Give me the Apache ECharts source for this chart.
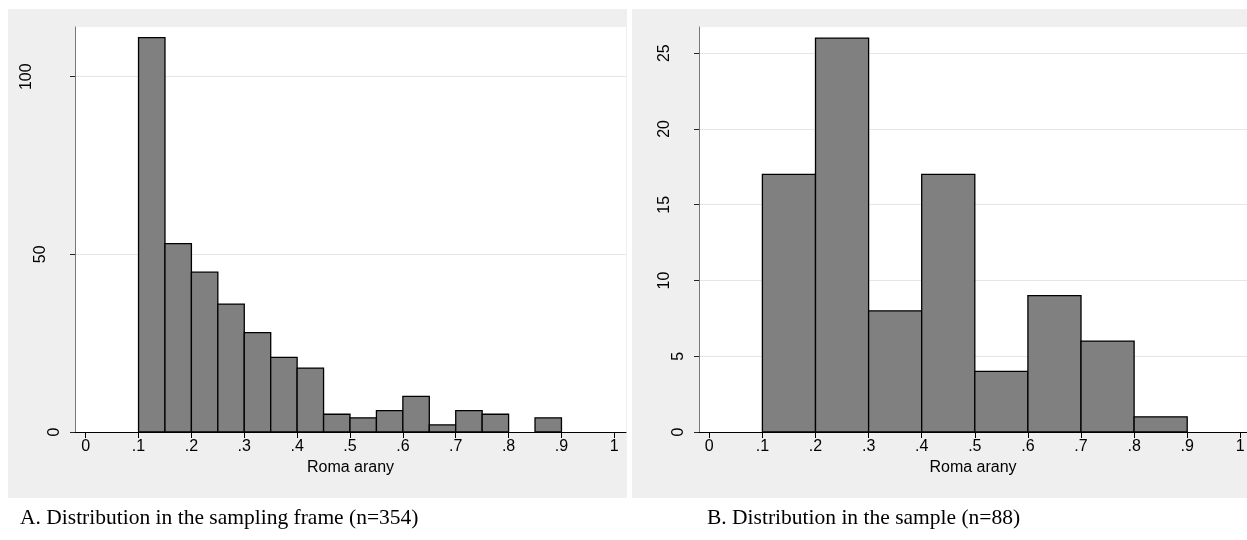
<!DOCTYPE html>
<html><head><meta charset="utf-8">
<script src="https://cdn.jsdelivr.net/npm/echarts@6/dist/echarts.min.js"></script>
<style>html,body{margin:0;padding:0;background:#fff}#c{width:1247px;height:540px}</style>
</head><body><div id="c"></div>
<script>
// ---- data ----
const xTicks = [0, 0.1, 0.2, 0.3, 0.4, 0.5, 0.6, 0.7, 0.8, 0.9, 1];
const xTickLabels = ['0', '.1', '.2', '.3', '.4', '.5', '.6', '.7', '.8', '.9', '1'];
const xTitle = 'Roma arany';

const frameEdges = [0.10, 0.15, 0.20, 0.25, 0.30, 0.35, 0.40, 0.45, 0.50, 0.55, 0.60, 0.65, 0.70, 0.75, 0.80, 0.85, 0.90];
const frameCounts = [111, 53, 45, 36, 28, 21, 18, 5, 4, 6, 10, 2, 6, 5, 0, 4];
const frameYTicks = [0, 50, 100];
const frameCaption = 'A. Distribution in the sampling frame (n=354)';

const sampleEdges = [0.1, 0.2, 0.3, 0.4, 0.5, 0.6, 0.7, 0.8, 0.9];
const sampleCounts = [17, 26, 8, 17, 4, 9, 6, 1];
const sampleYTicks = [0, 5, 10, 15, 20, 25];
const sampleCaption = 'B. Distribution in the sample (n=88)';

// ---- build ----
const SANS = 'Liberation Sans, Arial, sans-serif';
const SERIF = 'Liberation Serif, Times New Roman, serif';
const FS = 16;

function xLabel(v) {
  for (let i = 0; i < xTicks.length; i++) if (Math.abs(xTicks[i] - v) < 1e-9) return xTickLabels[i];
  return '';
}

function binData(edges, counts) {
  return counts.map((c, i) => [edges[i], edges[i + 1], c]);
}

const panels = [
  { grid: { left: 75, right: 1247 - 626, top: 27, bottom: 108 }, xmin: -0.0202, xmax: 1.0221, ymax: 114.0,
    yTicks: frameYTicks, data: binData(frameEdges, frameCounts) },
  { grid: { left: 699, right: 0, top: 27, bottom: 108 }, xmin: -0.0194, xmax: 1.0126, ymax: 26.73,
    yTicks: sampleYTicks, data: binData(sampleEdges, sampleCounts) }
];

const marginByLen = { 1: 12, 2: 26.5, 3: 40.5 };
const capStyle = { fontFamily: SERIF, fontSize: 21.5, fontWeight: 'normal', color: '#000' };

const option = {
  animation: false,
  backgroundColor: '#fff',
  title: [
    { text: frameCaption, left: 20, top: 507, padding: 0, textStyle: capStyle },
    { text: sampleCaption, left: 707, top: 507, padding: 0, textStyle: capStyle }
  ],
  graphic: [
    { type: 'rect', z: -10, shape: { x: 8, y: 9, width: 619, height: 489 }, style: { fill: '#efefef' } },
    { type: 'rect', z: -10, shape: { x: 632, y: 9, width: 615, height: 489 }, style: { fill: '#efefef' } }
  ],
  grid: [], xAxis: [], yAxis: [], series: []
};

panels.forEach((p, gi) => {
  option.grid.push(Object.assign({ show: true, backgroundColor: '#fff', borderWidth: 0,
    containLabel: false, outerBoundsMode: 'none' }, p.grid));
  option.xAxis.push({
    type: 'value', gridIndex: gi, position: 'bottom', min: p.xmin, max: p.xmax,
    name: xTitle, nameLocation: 'middle', nameGap: 21,
    nameTextStyle: { fontFamily: SANS, fontSize: FS, color: '#000' },
    axisLine: { show: true, onZero: false, lineStyle: { color: '#000', width: 1 } },
    axisTick: { show: true, length: 6, customValues: xTicks, lineStyle: { color: '#000', width: 1 } },
    axisLabel: { show: true, customValues: xTicks, formatter: xLabel, margin: 7, fontFamily: SANS, fontSize: FS, color: '#000' },
    splitLine: { show: false }
  });
  const mainY = option.yAxis.length;
  option.yAxis.push({
    type: 'value', gridIndex: gi, position: 'left', offset: 0, min: 0, max: p.ymax,
    axisLine: { show: true, onZero: false, lineStyle: { color: '#777', width: 1 } },
    axisTick: { show: true, length: 5, customValues: p.yTicks, lineStyle: { color: '#222', width: 1 } },
    axisLabel: { show: false },
    splitLine: { show: true, lineStyle: { color: '#e6e6e6', width: 1.2 } }
  });
  [1, 2, 3].forEach(n => {
    const vals = p.yTicks.filter(v => String(v).length === n);
    if (!vals.length) return;
    option.yAxis.push({
      type: 'value', gridIndex: gi, position: 'left', offset: 0, min: 0, max: p.ymax,
      axisLine: { show: false, onZero: false }, axisTick: { show: false }, splitLine: { show: false },
      axisLabel: { show: true, customValues: vals, rotate: 90, margin: marginByLen[n],
        fontFamily: SANS, fontSize: FS, color: '#000' }
    });
  });
  option.series.push({
    type: 'custom', xAxisIndex: gi, yAxisIndex: mainY, data: p.data,
    encode: { x: [0, 1], y: 2 },
    renderItem: function (params, api) {
      const c = api.value(2);
      if (!c) return null;
      const a = api.coord([api.value(0), c]);
      const b = api.coord([api.value(1), 0]);
      return { type: 'rect', shape: { x: a[0], y: a[1], width: b[0] - a[0], height: b[1] - a[1] },
        style: { fill: '#808080', stroke: '#000', lineWidth: 1.3 } };
    }
  });
});

const chart = echarts.init(document.getElementById('c'), null, { renderer: 'canvas' });
chart.setOption(option);
</script>
</body></html>
